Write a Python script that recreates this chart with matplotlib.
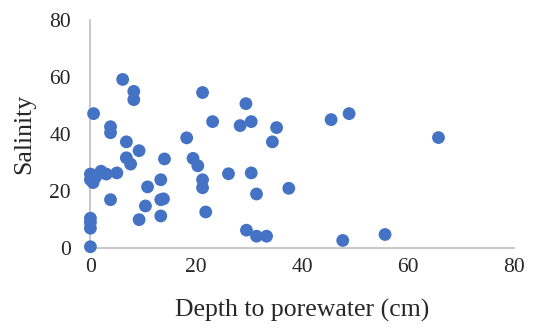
import matplotlib
matplotlib.use("Agg")
import matplotlib.pyplot as plt

# Depth to porewater (cm) vs salinity
depth = [0, 0, 0, 0, 0, 0, 0.5, 1, 2, 3,
         0.6, 3.8, 3.8, 3.8, 5, 6.1, 8.2, 8.2, 6.8, 6.8,
         7.6, 9.2, 9.2, 10.4, 10.8, 13.3, 13.3, 13.8, 13.3, 14,
         18.2, 19.4, 20.3, 21.2, 21.2, 21.8, 21.2, 23.1, 26.1, 28.3,
         29.4, 30.4, 30.4, 31.4, 29.5, 31.4, 33.3, 34.4, 35.2, 37.5,
         45.5, 48.9, 47.7, 55.7, 65.8]
salinity = [0.5, 7, 9, 10.5, 24, 26, 23, 25, 27, 26,
            47.2, 42.6, 40.5, 17, 26.4, 59.2, 55, 52.1, 37.3, 31.7,
            29.5, 34.2, 10, 14.8, 21.5, 24, 17, 17.3, 11.3, 31.3,
            38.7, 31.5, 28.9, 24, 21.2, 12.7, 54.6, 44.4, 26.1, 43,
            50.7, 44.4, 26.4, 19, 6.3, 4.2, 4.2, 37.3, 42.3, 21,
            45.1, 47.2, 2.7, 4.8, 38.8]
ticks = [0, 20, 40, 60, 80]

plt.rcParams["font.family"] = ["Liberation Serif", "DejaVu Serif"]

fig = plt.figure(figsize=(5.35, 3.3), dpi=100)
ax = fig.add_axes([0.169, 0.248, 0.791, 0.691])

ax.scatter(depth, salinity, s=85, color="#4472C4", edgecolors="none", zorder=3, clip_on=False)

ax.set_xlim(0, 80)
ax.set_ylim(0, 80)
ax.set_xticks(ticks)
ax.set_yticks(ticks)
ax.tick_params(length=0, labelsize=15.5, colors="#262626")
ax.tick_params(axis="y", pad=14)
ax.tick_params(axis="x", pad=7)

for side in ("top", "right"):
    ax.spines[side].set_visible(False)
for side in ("left", "bottom"):
    ax.spines[side].set_color("#BFBFBF")
    ax.spines[side].set_linewidth(1.2)

ax.set_xlabel("Depth to porewater (cm)", fontsize=18.5, color="#262626", labelpad=16)
ax.set_ylabel("Salinity", fontsize=18.5, color="#262626", labelpad=10)

fig.savefig("out.png", dpi=100)
